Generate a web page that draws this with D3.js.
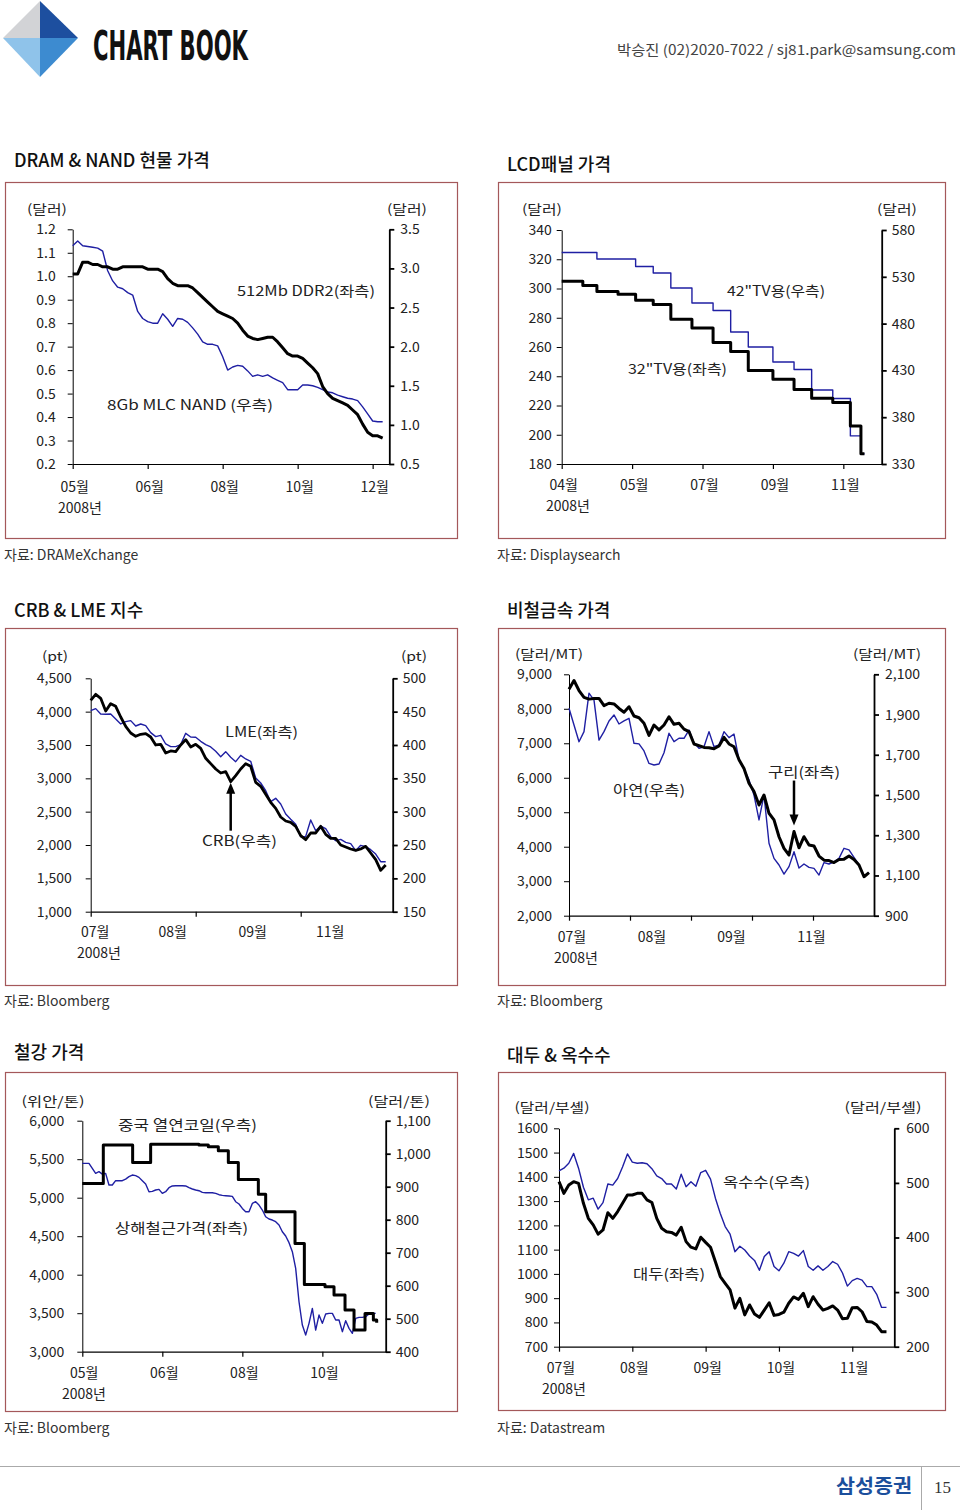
<!DOCTYPE html>
<html><head><meta charset="utf-8">
<script src="https://cdn.jsdelivr.net/npm/d3@7"></script>
<style>body{margin:0;background:#fff}svg{display:block}</style>
</head><body><div id="c"></div><script>
// ---------- DATA ----------
// Chart 1: DRAM & NAND
const dramTicksL = [0.2,0.3,0.4,0.5,0.6,0.7,0.8,0.9,1.0,1.1,1.2];
const dramTicksR = [0.5,1.0,1.5,2.0,2.5,3.0,3.5];
const dramXTicks = [0,15,30,45,60];
const dramXLabels = ["05월","06월","08월","10월","12월"];
const ddr2 = [1.01,1.01,1.06,1.06,1.05,1.05,1.04,1.04,1.03,1.03,1.04,1.04,1.04,1.04,1.04,1.03,1.03,1.03,1.02,0.99,0.97,0.96,0.96,0.96,0.95,0.93,0.91,0.89,0.87,0.85,0.84,0.83,0.82,0.80,0.77,0.745,0.735,0.73,0.735,0.74,0.74,0.72,0.695,0.67,0.66,0.66,0.65,0.63,0.61,0.585,0.53,0.50,0.48,0.47,0.46,0.45,0.43,0.41,0.37,0.335,0.32,0.32,0.31];
const nand = [3.29,3.35,3.29,3.28,3.27,3.26,3.22,2.97,2.84,2.76,2.74,2.69,2.66,2.45,2.36,2.32,2.30,2.30,2.42,2.35,2.26,2.36,2.35,2.31,2.24,2.16,2.06,2.03,2.03,2.01,1.87,1.70,1.74,1.76,1.75,1.69,1.62,1.64,1.62,1.64,1.60,1.57,1.54,1.45,1.45,1.45,1.51,1.51,1.50,1.48,1.45,1.42,1.41,1.38,1.36,1.34,1.33,1.31,1.23,1.14,1.05,1.04,1.04];

// Chart 2: LCD panel
const lcdTicksL = [180,200,220,240,260,280,300,320,340];
const lcdTicksR = [330,380,430,480,530,580];
const lcdXTicks = [0,20,40,60,80];
const lcdXLabels = ["04월","05월","07월","09월","11월"];
const tv32Idx = [0,6,10,16,21,26,31,37,43,48,53,60,66,71,77,82,85,86];
const tv32 = [305,302,298,296,292,289,279,273,263,257,244,238,231,225,222,206,187,187];
const tv42Idx = [0,10,21,26,31,37,43,48,53,60,66,71,77,82,85,86];
const tv42 = [556,549,541,534,518,502,494,471,455,439,431,409,400,360,341,341];

// Chart 3: CRB & LME
const crbTicksL = [1000,1500,2000,2500,3000,3500,4000,4500];
const crbTicksR = [150,200,250,300,350,400,450,500];
const crbXTicks = [0,21,42];
const crbXLabelPos = [0.5,16,32,47.5];
const crbXLabels = ["07월","08월","09월","11월"];
const crb = [467,476,470,451,462,458,442,428,418,413,416,417,412,400,401,388,391,390,400,408,397,401,395,380,372,364,358,360,345,354,364,372,368,344,338,326,314,305,292,286,284,278,264,258,268,268,278,266,260,260,250,247,244,242,244,248,238,228,212,220];
const lme = [4015,4045,3965,3960,3965,3890,3815,3850,3865,3785,3815,3790,3685,3625,3645,3515,3475,3475,3505,3675,3620,3615,3555,3505,3470,3405,3325,3400,3315,3250,3345,3290,3255,3005,2930,2815,2650,2700,2615,2465,2385,2310,2125,2130,2375,2215,2285,2245,2125,2065,2085,2040,2020,1915,1995,1975,1930,1865,1750,1750];

// Chart 4: non-ferrous metals
const metTicksL = [2000,3000,4000,5000,6000,7000,8000,9000];
const metTicksR = [900,1100,1300,1500,1700,1900,2100];
const metXTicks = [0,12.2,24.4,36.6,48.8];
const metXLabelPos = [0.2,16.2,32.1,48.1];
const metXLabels = ["07월","08월","09월","11월"];
const copper = [8570,8820,8530,8330,8280,8300,8300,8090,8160,8140,8010,7900,8060,7790,7740,7580,7230,7530,7390,7530,7770,7550,7580,7410,7340,6980,6930,6880,6870,6840,6920,7170,6980,6900,6520,6270,5840,5600,5210,5500,4970,4780,4290,3950,3760,4440,3970,4290,4050,4020,3730,3610,3600,3540,3630,3640,3730,3630,3470,3130,3250];
const zinc = [1931,1848,1765,1815,2006,1972,1773,1815,1868,1898,1853,1868,1881,1757,1754,1719,1657,1649,1654,1710,1807,1765,1782,1782,1823,1760,1732,1740,1815,1740,1749,1815,1785,1803,1674,1629,1575,1500,1376,1500,1260,1185,1152,1107,1144,1218,1137,1157,1140,1135,1102,1164,1157,1168,1185,1235,1227,1190,1152,1097,1114];

// Chart 5: steel
const stlTicksL = [3000,3500,4000,4500,5000,5500,6000];
const stlTicksR = [400,500,600,700,800,900,1000,1100];
const stlXTicks = [0,24,48,72];
const stlXLabels = ["05월","06월","08월","10월"];
const hrcIdx = [0,6.3,15.1,20.5,35,37.8,40.8,43.8,46.8,52.8,55,63.8,66.6,72.8,75.5,78.8,81.5,84.8,87.3,88.3];
const hrc = [910,1026,973,1029,1026,1021,1009,973,922,877,824,728,604,597,572,526,466,516,496,488];
const rebar = [5446,5446,5446,5381,5316,5338,5307,5316,5165,5165,5221,5221,5221,5242,5273,5294,5286,5264,5221,5177,5078,5082,5100,5108,5056,5078,5130,5152,5156,5156,5156,5152,5130,5113,5100,5091,5069,5065,5065,5065,5056,5039,5030,5026,5022,5017,4948,4918,4861,4818,4818,4926,4948,4905,4840,4753,4723,4710,4688,4645,4558,4502,4416,4299,4082,3649,3346,3216,3368,3562,3281,3476,3368,3489,3498,3498,3411,3411,3260,3403,3303,3238,3433,3446,3446,3455,3489,3498,3498];

// Chart 6: soybean & corn
const agrTicksL = [700,800,900,1000,1100,1200,1300,1400,1500,1600];
const agrTicksR = [200,300,400,500,600];
const agrXTicks = [0,15,30,45,60];
const agrXLabels = ["07월","08월","09월","10월","11월"];
const soybean = [1380,1332,1366,1380,1373,1291,1229,1202,1164,1181,1252,1229,1257,1291,1325,1325,1332,1332,1305,1294,1229,1188,1174,1171,1160,1192,1133,1110,1103,1151,1130,1110,1050,989,961,934,859,899,831,872,835,821,851,881,829,833,842,879,905,895,920,865,906,875,851,858,868,851,815,817,861,862,844,804,802,789,762,762];
const corn = [522,527,536,554,527,492,469,472,452,464,498,496,508,529,553,538,536,537,535,526,513,508,498,498,489,516,493,502,494,519,523,507,472,444,420,406,374,384,377,366,358,340,365,374,347,339,353,374,371,366,376,347,340,348,340,347,356,351,335,311,321,325,322,310,310,296,272,272];

// ---------- DRAWING ----------
const FONT = "'Noto Sans CJK KR','Noto Sans',sans-serif";
const BLUE = "#1f1fa3";
const svg = d3.select('#c').append('svg').attr('width',960).attr('height',1510)
  .style('font-family',FONT);

// header
const logo = svg.append('g');
logo.append('polygon').attr('points','40,1 40,38 3,38').attr('fill','#d2d3d6');
logo.append('polygon').attr('points','40,1 78,38 40,38').attr('fill','#1d4f9f');
logo.append('polygon').attr('points','3,38 40,38 40,77').attr('fill','#8fc3ea');
logo.append('polygon').attr('points','40,38 78,38 40,77').attr('fill','#3d8bd0');
svg.append('text').attr('x',93).attr('y',60).text('CHART BOOK')
  .attr('font-family',"'Liberation Sans Narrow','DejaVu Sans Condensed',sans-serif")
  .attr('font-weight',700).attr('font-size',40).attr('fill','#111')
  .attr('textLength',155).attr('lengthAdjust','spacingAndGlyphs');
svg.append('text').attr('x',617).attr('y',55).text('박승진 (02)2020-7022 / sj81.park@samsung.com')
  .attr('font-size',14).attr('fill','#444').attr('textLength',339).attr('lengthAdjust','spacingAndGlyphs');

// footer
svg.append('line').attr('x1',0).attr('x2',960).attr('y1',1466.5).attr('y2',1466.5).attr('stroke','#aaa');
svg.append('line').attr('x1',921.5).attr('x2',921.5).attr('y1',1466).attr('y2',1510).attr('stroke','#aaa');
svg.append('text').attr('x',836).attr('y',1493).text('삼성증권').attr('font-size',19).attr('font-weight',700)
  .attr('fill','#1b4f9c').attr('textLength',76).attr('lengthAdjust','spacingAndGlyphs');
svg.append('text').attr('x',934).attr('y',1493).text('15').attr('font-size',17)
  .attr('font-family',"'Liberation Serif',serif").attr('fill','#333');

function panel(c){
  const g = svg.append('g');
  g.append('text').attr('x',c.titleX).attr('y',c.titleY).text(c.title)
    .attr('font-size',18).attr('font-weight',500).attr('fill','#111');
  g.append('rect').attr('x',c.box[0]+0.5).attr('y',c.box[1]+0.5)
    .attr('width',c.box[2]-c.box[0]).attr('height',c.box[3]-c.box[1])
    .attr('fill','none').attr('stroke','#a4585a').attr('stroke-width',1.2);
  g.append('text').attr('x',c.box[0]-1).attr('y',c.srcY).text(c.source).attr('font-size',14).attr('fill','#333');

  const x = d3.scaleLinear().domain([0,c.xMax]).range([c.L,c.R]);
  const yL = d3.scaleLinear().domain([c.ticksL[0],c.ticksL[c.ticksL.length-1]]).range([c.B,c.T]);
  const yR = d3.scaleLinear().domain([c.ticksR[0],c.ticksR[c.ticksR.length-1]]).range([c.B,c.T]);

  const styleAxis = (sel,w)=>{
    sel.selectAll('path,line').attr('stroke','#000').attr('stroke-width',w);
    sel.selectAll('text').attr('font-family',FONT).attr('font-size',14).attr('fill','#222');
  };
  g.append('g').attr('transform',`translate(${c.L},0)`)
    .call(d3.axisLeft(yL).tickValues(c.ticksL).tickFormat(c.fmtL).tickSize(5).tickSizeOuter(0).tickPadding(c.padL))
    .call(s=>styleAxis(s,1));
  g.append('g').attr('transform',`translate(${c.R},0)`)
    .call(d3.axisRight(yR).tickValues(c.ticksR).tickFormat(c.fmtR).tickSize(5).tickSizeOuter(0).tickPadding(c.padR))
    .call(s=>styleAxis(s,1.8));
  g.append('g').attr('transform',`translate(0,${c.B})`)
    .call(d3.axisBottom(x).tickValues(c.xTicks).tickFormat('').tickSize(5).tickSizeOuter(0))
    .call(s=>styleAxis(s,1.2));

  const lp = c.xLabelPos || c.xTicks;
  g.selectAll('.xl').data(c.xLabels).join('text').attr('class','xl')
    .attr('x',(d,i)=>x(lp[i])+2).attr('y',c.xLabelY).attr('text-anchor','middle')
    .attr('font-size',14).attr('fill','#222').text(d=>d);
  g.append('text').attr('x',c.yearX).attr('y',c.xLabelY+21).attr('text-anchor','middle')
    .attr('font-size',14).attr('fill','#222').text('2008년');
  // units
  g.append('text').attr('x',c.unitL[0]).attr('y',c.unitY).attr('text-anchor','middle').attr('font-size',13)
    .attr('fill','#222').attr('textLength',c.unitL[1]).attr('lengthAdjust','spacingAndGlyphs').text(c.unitTextL);
  g.append('text').attr('x',c.unitR[0]).attr('y',c.unitY).attr('text-anchor','middle').attr('font-size',13)
    .attr('fill','#222').attr('textLength',c.unitR[1]).attr('lengthAdjust','spacingAndGlyphs').text(c.unitTextR);

  c.series.forEach(s=>{
    const ys = s.axis==='L'?yL:yR;
    const line = d3.line().x((d,i)=>x(s.idx?s.idx[i]:i)).y(d=>ys(d));
    if(s.step) line.curve(d3.curveStepAfter);
    g.append('path').datum(s.values).attr('d',line).attr('fill','none')
      .attr('stroke',s.color).attr('stroke-width',s.width).attr('stroke-linejoin','round');
  });
  c.notes.forEach(n=>{
    g.append('text').attr('x',n.x).attr('y',n.y).attr('font-size',14).attr('fill','#222')
      .attr('textLength',n.w).attr('lengthAdjust','spacingAndGlyphs').text(n.t);
  });
  if(c.arrow){
    const a=c.arrow;
    const ax = x(a.i);
    const ys = a.axis==='L'?yL:yR;
    const tip = ys(a.v)+a.off;
    const tail = tip + a.dir*a.len;
    g.append('line').attr('x1',ax).attr('x2',ax).attr('y1',tail).attr('y2',tip+a.dir*8)
      .attr('stroke','#000').attr('stroke-width',2.5);
    g.append('path').attr('d',`M${ax},${tip} L${ax-4.5},${tip+a.dir*11} L${ax+4.5},${tip+a.dir*11} Z`).attr('fill','#000');
  }
}

const f1 = d3.format('.1f'), fc = d3.format(','), fd = d3.format('d');

panel({title:'DRAM & NAND 현물 가격',titleX:14,titleY:167,box:[5,182,457,538],source:'자료: DRAMeXchange',srcY:560,
  L:72.7,R:389.3,T:229.3,B:464,xMax:63.33,ticksL:dramTicksL,ticksR:dramTicksR,fmtL:f1,fmtR:f1,padL:12,padR:6,
  xTicks:dramXTicks,xLabels:dramXLabels,xLabelY:492,yearX:80,unitY:214,unitL:[47,40],unitR:[407,40],unitTextL:'(달러)',unitTextR:'(달러)',
  series:[{values:nand,axis:'R',color:BLUE,width:1.4},{values:ddr2,axis:'L',color:'#000',width:3}],
  notes:[{t:'512Mb DDR2(좌측)',x:237,y:296,w:138},{t:'8Gb MLC NAND (우측)',x:107,y:410,w:166}]});

panel({title:'LCD패널 가격',titleX:507,titleY:171,box:[498,182,945,538],source:'자료: Displaysearch',srcY:560,
  L:561.7,R:881.7,T:230,B:464,xMax:90.9,ticksL:lcdTicksL,ticksR:lcdTicksR,fmtL:fd,fmtR:fd,padL:5,padR:5,
  xTicks:lcdXTicks,xLabels:lcdXLabels,xLabelY:490,yearX:568,unitY:214,unitL:[542,40],unitR:[897,40],unitTextL:'(달러)',unitTextR:'(달러)',
  series:[{values:tv42,idx:tv42Idx,step:true,axis:'R',color:BLUE,width:1.4},{values:tv32,idx:tv32Idx,step:true,axis:'L',color:'#000',width:3}],
  notes:[{t:'42"TV용(우측)',x:727,y:296,w:98},{t:'32"TV용(좌측)',x:628,y:374,w:99}]});

panel({title:'CRB & LME 지수',titleX:14,titleY:617,box:[5,628,457,985],source:'자료: Bloomberg',srcY:1006,
  L:90.7,R:392.7,T:678.3,B:911.7,xMax:60.4,ticksL:crbTicksL,ticksR:crbTicksR,fmtL:fc,fmtR:fd,padL:14,padR:5,
  xTicks:crbXTicks,xLabelPos:crbXLabelPos,xLabels:crbXLabels,xLabelY:937,yearX:99,unitY:661,unitL:[55,26],unitR:[414,26],unitTextL:'(pt)',unitTextR:'(pt)',
  series:[{values:lme,axis:'L',color:BLUE,width:1.4},{values:crb,axis:'R',color:'#000',width:2.8}],
  notes:[{t:'LME(좌측)',x:225,y:737,w:73},{t:'CRB(우측)',x:202,y:846,w:75}],
  arrow:{i:28,v:crb[28],axis:'R',off:1,dir:1,len:48}});

panel({title:'비철금속 가격',titleX:507,titleY:617,box:[498,628,945,985],source:'자료: Bloomberg',srcY:1006,
  L:569,R:874,T:674.3,B:915.7,xMax:61,ticksL:metTicksL,ticksR:metTicksR,fmtL:fc,fmtR:fc,padL:12,padR:6,
  xTicks:metXTicks,xLabelPos:metXLabelPos,xLabels:metXLabels,xLabelY:942,yearX:576,unitY:659,unitL:[549,68],unitR:[887,68],unitTextL:'(달러/MT)',unitTextR:'(달러/MT)',
  series:[{values:zinc,axis:'R',color:BLUE,width:1.4},{values:copper,axis:'L',color:'#000',width:3}],
  notes:[{t:'구리(좌측)',x:768,y:777,w:72},{t:'아연(우측)',x:613,y:795,w:72}],
  arrow:{i:45,v:copper[45],axis:'L',off:-6,dir:-1,len:45}});

panel({title:'철강 가격',titleX:14,titleY:1059,box:[5,1072,457,1411],source:'자료: Bloomberg',srcY:1433,
  L:82.3,R:385.7,T:1120.7,B:1351.7,xMax:91,ticksL:stlTicksL,ticksR:stlTicksR,fmtL:fc,fmtR:fc,padL:13,padR:5,
  xTicks:stlXTicks,xLabels:stlXLabels,xLabelY:1378,yearX:84,unitY:1106,unitL:[53,63],unitR:[399,62],unitTextL:'(위안/톤)',unitTextR:'(달러/톤)',
  series:[{values:rebar,axis:'L',color:BLUE,width:1.4},{values:hrc,idx:hrcIdx,step:true,axis:'R',color:'#000',width:3}],
  notes:[{t:'중국 열연코일(우측)',x:118,y:1130,w:139},{t:'상해철근가격(좌측)',x:115,y:1233,w:133}]});

panel({title:'대두 & 옥수수',titleX:507,titleY:1062,box:[498,1072,945,1410],source:'자료: Datastream',srcY:1433,
  L:559,R:894.3,T:1128.3,B:1346.7,xMax:68.6,ticksL:agrTicksL,ticksR:agrTicksR,fmtL:fd,fmtR:fd,padL:6,padR:7,
  xTicks:agrXTicks,xLabels:agrXLabels,xLabelY:1373,yearX:564,unitY:1112,unitL:[552,75],unitR:[883,77],unitTextL:'(달러/부셸)',unitTextR:'(달러/부셸)',
  series:[{values:corn,axis:'R',color:BLUE,width:1.4},{values:soybean,axis:'L',color:'#000',width:3}],
  notes:[{t:'옥수수(우측)',x:723,y:1187,w:87},{t:'대두(좌측)',x:633,y:1279,w:72}]});
</script></body></html>
